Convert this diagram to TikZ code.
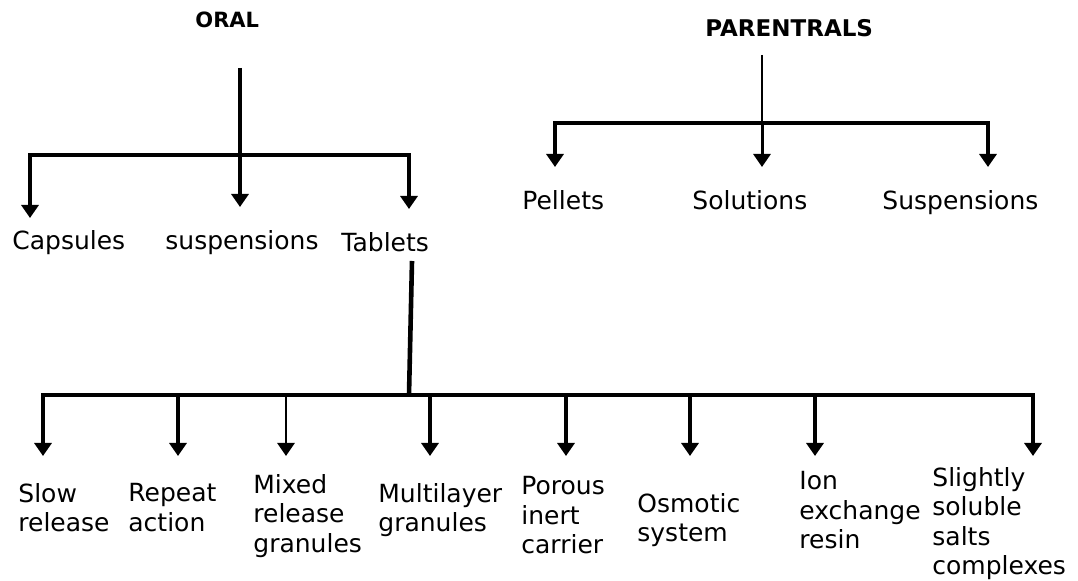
\documentclass[tikz,border=0pt]{standalone}
\usepackage{fontspec}
\setmainfont{DejaVu Sans}
\usepackage{tikz}
\usetikzlibrary{
  arrows.meta,
  positioning}

\begin{document}
\begin{tikzpicture}[x=0.5pt,y=-0.5pt,
    hdr/.style={font=\fontsize{10.5}{12}\selectfont\bfseries,inner sep=0pt,anchor=base west},
    lbl/.style={font=\fontsize{12.5}{14.75}\selectfont,inner sep=0pt,anchor=north west,align=left},
    one/.style={lbl,anchor=base west},
    bar/.style={line width=1.9pt},
    arr/.style={-{Triangle[width=8.5pt,length=6.5pt]},line width=1.9pt}]
            \useasboundingbox (0,0) rectangle (1078,581);

            % headers
            \node[hdr] (oral) at (195,28) {ORAL};
            \node[hdr,font=\fontsize{11.5}{13}\selectfont\bfseries] (par) at (705,37) {PARENTRALS};

            % first level
            \node[one] (caps) at (12,250) {Capsules};
            \node[one] (susp) at (165,250) {suspensions};
            \node[one] (tab) at (341,252) {Tablets};
            \node[one] (pel) at (522,210) {Pellets};
            \node[one] (sol) at (692,210) {Solutions};
            \node[one] (psusp) at (882,210) {Suspensions};

            % tablets
            \node[lbl] (slow) at (18,483) {Slow\\release};
            \node[lbl] (rep) at (128,483) {Repeat\\action};
            \node[lbl] (mix) at (253,474) {Mixed\\release\\granules};
            \node[lbl] (multi) at (378,483) {Multilayer\\granules};
            \node[lbl] (por) at (521,476) {Porous\\inert\\carrier};
            \node[lbl] (osm) at (637,493) {Osmotic\\system};
            \node[lbl] (ion) at (799,471) {Ion\\exchange\\resin};
            \node[lbl] (sli) at (932,467) {Slightly\\soluble\\salts\\complexes};

            \coordinate (oraltop) at (240,68);
            \coordinate (oraljn) at (240,155);
            \coordinate (capsin) at (30,218);
            \coordinate (suspin) at (240,207);
            \coordinate (tabin) at (409,209);

            \coordinate (partop) at (762,55);
            \coordinate (parjn) at (762,123);
            \coordinate (pelin) at (555,167);
            \coordinate (solin) at (762,167);
            \coordinate (psuspin) at (988,167);

            \coordinate (tabtop) at (412,261);
            \coordinate (tabjn) at (409,395);
            \coordinate (slowin) at (43,456);
            \coordinate (repin) at (178,456);
            \coordinate (mixin) at (286,456);
            \coordinate (multin) at (430,456);
            \coordinate (porin) at (566,456);
            \coordinate (osmin) at (690,456);
            \coordinate (ionin) at (815,456);
            \coordinate (sliin) at (1033,456);

            \draw[bar] (oraltop) -- (oraljn);
            \draw[arr] (oraljn) -| (capsin);
            \draw[arr] (oraljn) -- (suspin);
            \draw[arr,line width=2.3pt] (oraljn) -| (tabin);

            \draw[bar,line width=1.4pt] (partop) -- (parjn);
            \draw[arr,line width=1.7pt] (parjn) -| (pelin);
            \draw[arr,line width=1.5pt] (parjn) -- (solin);
            \draw[arr,line width=1.7pt] (parjn) -| (psuspin);

            \draw[bar,line width=2.3pt] (tabtop) -- (tabjn);
            \foreach \t in {slowin,repin,multin,porin,osmin,ionin,sliin}
                \draw[arr] (tabjn) -| (\t);
            \draw[arr,line width=1.4pt] (tabjn) -| (mixin);
        \end{tikzpicture}
\end{document}
